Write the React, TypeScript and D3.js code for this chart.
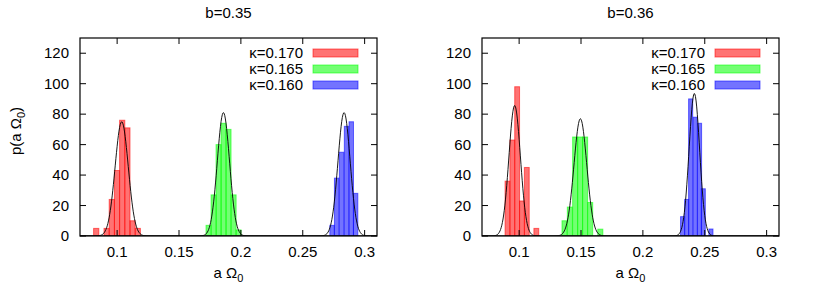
import React from "react";
import * as d3 from "d3";

// ---- data ----
const kappaLabels = ["κ=0.170", "κ=0.165", "κ=0.160"];
const seriesColors = ["#ff0000", "#00ff00", "#0000ff"];
const panelTitles = ["b=0.35", "b=0.36"];
const xTicks = [0.1, 0.15, 0.2, 0.25, 0.3];
const yTicks = [0, 20, 40, 60, 80, 100, 120];

// panel b=0.35
const l_red_x = [0.0831, 0.0915, 0.0957, 0.0999, 0.1041, 0.1083, 0.1125, 0.1167];
const l_red_y = [5, 5, 24, 43, 76, 71, 10, 5];
const l_red_w = 0.0042;
const l_green_x = [0.1739, 0.178, 0.182, 0.186, 0.19, 0.1941, 0.1981];
const l_green_y = [7, 27, 60, 74, 70, 27, 4];
const l_green_w = 0.0041;
const l_blue_x = [0.2737, 0.2774, 0.2814, 0.2854, 0.2892, 0.2927];
const l_blue_y = [7, 38, 55, 72, 75, 28];
const l_blue_w = 0.0036;

// panel b=0.36
const r_red_x = [0.0906, 0.0945, 0.0984, 0.1023, 0.1062, 0.1139];
const r_red_y = [36, 63, 98, 23, 45, 5];
const r_red_w = 0.0039;
const r_green_x = [0.1367, 0.141, 0.1453, 0.1493, 0.1533, 0.1574, 0.1656];
const r_green_y = [10, 19, 65, 65, 65, 22, 4.5];
const r_green_w = 0.0041;
const r_blue_x = [0.2321, 0.2354, 0.2386, 0.2423, 0.2458, 0.2488, 0.255];
const r_blue_y = [12.7, 24, 90, 78, 74, 31, 4.6];
const r_blue_w = 0.0033;

// gaussian fits: mean and peak density
const l_fit_mean = [0.1037, 0.1859, 0.2834];
const l_fit_peak = [75, 81, 81];
const r_fit_mean = [0.0964, 0.1495, 0.2416];
const r_fit_peak = [85.7, 77, 93.6];

const panels = [
  {
    title: panelTitles[0],
    hists: [
      { x: l_red_x, y: l_red_y, w: l_red_w },
      { x: l_green_x, y: l_green_y, w: l_green_w },
      { x: l_blue_x, y: l_blue_y, w: l_blue_w },
    ],
    means: l_fit_mean,
    peaks: l_fit_peak,
  },
  {
    title: panelTitles[1],
    hists: [
      { x: r_red_x, y: r_red_y, w: r_red_w },
      { x: r_green_x, y: r_green_y, w: r_green_w },
      { x: r_blue_x, y: r_blue_y, w: r_blue_w },
    ],
    means: r_fit_mean,
    peaks: r_fit_peak,
  },
];

const W = 830;
const H = 289;
const plotW = 297;
const top = 38;
const bottom = 236;
const lefts = [80, 482];
const font = "'Liberation Sans', Arial, Helvetica, sans-serif";
const fs = 15;
const tickLen = 6;

function Panel({ p, left, idx }: { p: any; left: number; idx: number }) {
  const x = d3.scaleLinear().domain([0.07, 0.31]).range([left, left + plotW]);
  const y = d3.scaleLinear().domain([0, 130]).range([bottom, top]);
  const clipId = `clip${idx}`;
  const samples = d3.range(0.07, 0.3101, 0.0005);
  const curves = p.means.map((m: number, i: number) => {
    const pk = p.peaks[i];
    const s = 1 / (pk * Math.sqrt(2 * Math.PI));
    const line = d3
      .line<number>()
      .x((v) => x(v))
      .y((v) => y(pk * Math.exp(-((v - m) * (v - m)) / (2 * s * s))));
    return line(samples) as string;
  });
  const cx = left + plotW / 2;
  return (
    <g>
      <defs>
        <clipPath id={clipId}>
          <rect x={left} y={top} width={plotW} height={bottom - top} />
        </clipPath>
      </defs>
      <g clipPath={`url(#${clipId})`}>
        {p.hists.map((h: any, si: number) =>
          h.x.map((xv: number, bi: number) => (
            <rect
              key={`${si}-${bi}`}
              x={x(xv - h.w / 2)}
              y={y(h.y[bi])}
              width={x(xv + h.w / 2) - x(xv - h.w / 2)}
              height={y(0) - y(h.y[bi])}
              fill={seriesColors[si]}
              fillOpacity={0.55}
              stroke={seriesColors[si]}
              strokeOpacity={0.55}
              strokeWidth={1}
            />
          ))
        )}
        {curves.map((d: string, i: number) => (
          <path key={i} d={d} fill="none" stroke="#000" strokeWidth={0.9} />
        ))}
      </g>
      {/* frame */}
      <rect x={left} y={top} width={plotW} height={bottom - top} fill="none" stroke="#000" strokeWidth={1.2} />
      {/* ticks */}
      {xTicks.map((t) => (
        <g key={t}>
          <line x1={x(t)} x2={x(t)} y1={bottom} y2={bottom - tickLen} stroke="#000" />
          <line x1={x(t)} x2={x(t)} y1={top} y2={top + tickLen} stroke="#000" />
          <text x={x(t)} y={257} textAnchor="middle" fontSize={fs} fontFamily={font}>
            {String(t)}
          </text>
        </g>
      ))}
      {yTicks.map((t) => (
        <g key={t}>
          <line x1={left} x2={left + tickLen} y1={y(t)} y2={y(t)} stroke="#000" />
          <line x1={left + plotW} x2={left + plotW - tickLen} y1={y(t)} y2={y(t)} stroke="#000" />
          <text x={left - 11} y={y(t) + 5} textAnchor="end" fontSize={fs} fontFamily={font}>
            {t}
          </text>
        </g>
      ))}
      {/* title */}
      <text x={cx} y={18} textAnchor="middle" fontSize={fs} fontFamily={font}>
        {p.title}
      </text>
      {/* x label */}
      <text x={cx} y={278} textAnchor="middle" fontSize={fs} fontFamily={font}>
        a Ω<tspan dy={4} fontSize={11}>0</tspan>
      </text>
      {/* legend */}
      {kappaLabels.map((lab, i) => {
        const by = 58 + i * 16;
        return (
          <g key={lab}>
            <text x={left + 223} y={by} textAnchor="end" fontSize={fs} fontFamily={font}>
              {lab}
            </text>
            <rect
              x={left + 233}
              y={by - 9}
              width={45}
              height={8}
              fill={seriesColors[i]}
              fillOpacity={0.55}
              stroke={seriesColors[i]}
              strokeOpacity={0.55}
            />
          </g>
        );
      })}
    </g>
  );
}

export default function App() {
  return (
    <svg width={W} height={H} style={{ position: "absolute", left: 0, top: 0, background: "#fff" }}>
      <rect x={0} y={0} width={W} height={H} fill="#fff" />
      {panels.map((p, i) => (
        <Panel key={i} p={p} left={lefts[i]} idx={i} />
      ))}
      <text
        transform="translate(21,131) rotate(-90)"
        textAnchor="middle"
        fontSize={fs}
        fontFamily={font}
      >
        p(a Ω<tspan dy={4} fontSize={11}>0</tspan>
        <tspan dy={-4}>)</tspan>
      </text>
    </svg>
  );
}
